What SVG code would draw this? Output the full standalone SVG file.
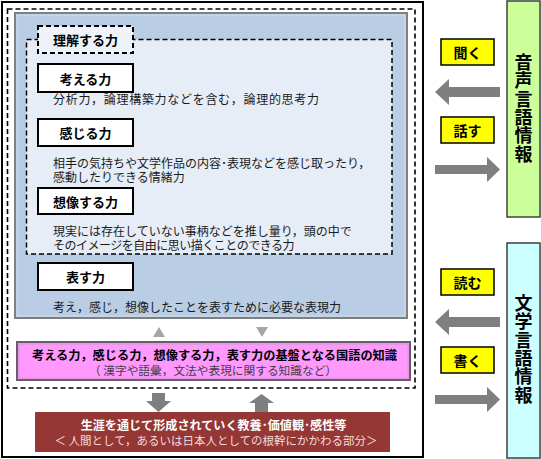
<svg xmlns="http://www.w3.org/2000/svg" width="541" height="459" viewBox="0 0 541 459">
<style>
  text { font-family: "Noto Sans CJK JP", "Noto Sans", sans-serif; dominant-baseline: central; }
  .lbl { font-size: 13px; font-weight: bold; fill: #000; text-anchor: middle; }
  .desc { font-size: 12px; fill: #1a1a1a; }
  .lblbox { fill: #ffffff; stroke: #000; stroke-width: 2; }
  .yel { fill: #ffff00; stroke: #000; stroke-width: 1.5; }
  .ytxt { font-size: 14px; font-weight: bold; text-anchor: middle; fill: #000; }
  .vtxt { font-size: 18px; font-weight: bold; fill: #000; writing-mode: vertical-rl; letter-spacing: 0.4px; }
  .arr { fill: #7f7f7f; }
  .tri { fill: #a6a6a6; }
</style>
<rect width="541" height="459" fill="#ffffff"/>

<g id="frame">
  <rect x="2" y="2" width="421" height="455" fill="none" stroke="#000" stroke-width="2"/>
  <rect x="7.5" y="9" width="407.5" height="379" fill="none" stroke="#000" stroke-width="1.6" stroke-dasharray="5,3"/>
</g>

<g id="abilities">
  <rect x="15" y="13" width="392" height="305" fill="#b9cde5" stroke="#7f7f7f" stroke-width="2"/>
  <rect x="17" y="15" width="388" height="301" fill="none" stroke="#d0dcea" stroke-width="1"/>
</g>

<g id="understanding">
  <rect x="26.5" y="39.5" width="365.5" height="214.5" fill="#e6edf7" stroke="#000" stroke-width="1.5" stroke-dasharray="5,3"/>
  <rect x="38" y="26" width="95" height="27" fill="#eef3fa" stroke="#000" stroke-width="2" stroke-dasharray="5,3"/>
  <text class="lbl" x="85.5" y="39.5">理解する力</text>
</g>

<g id="think">
  <rect class="lblbox" x="38" y="64" width="95" height="28"/>
  <text class="lbl" x="85.5" y="78">考える力</text>
  <text class="desc" x="53" y="98.5" textLength="266" lengthAdjust="spacing">分析力，論理構築力などを含む，論理的思考力</text>
</g>

<g id="feel">
  <rect class="lblbox" x="38" y="119" width="95" height="27"/>
  <text class="lbl" x="85.5" y="132.5">感じる力</text>
  <text class="desc"><tspan x="53" y="162">相手の気持ちや文学作品の内容･表現などを感じ取ったり，</tspan><tspan x="53" y="176">感動したりできる情緒力</tspan></text>
</g>

<g id="imagine">
  <rect class="lblbox" x="38" y="188" width="95" height="26"/>
  <text class="lbl" x="85.5" y="201">想像する力</text>
  <text class="desc"><tspan x="53" y="230">現実には存在していない事柄などを推し量り，頭の中で</tspan><tspan x="53" y="244" letter-spacing="-0.5">そのイメージを自由に思い描くことのできる力</tspan></text>
</g>

<g id="express">
  <rect class="lblbox" x="38" y="263" width="95" height="27"/>
  <text class="lbl" x="85.5" y="276.5">表す力</text>
  <text class="desc" x="53" y="306">考え，感じ，想像したことを表すために必要な表現力</text>
</g>

<g id="knowledge">
  <rect x="17" y="342" width="393" height="38" fill="#ff99ff" stroke="#6e5a6e" stroke-width="2"/>
  <rect x="19" y="344" width="389" height="34" fill="none" stroke="#c89ac8" stroke-width="1"/>
  <text text-anchor="middle"><tspan x="214.5" y="355" font-size="12.2" font-weight="bold" fill="#000">考える力，感じる力，想像する力，表す力の基盤となる国語の知識</tspan><tspan x="213" y="369" font-size="11.7" fill="#3f3f3f">（ 漢字や語彙，文法や表現に関する知識など）</tspan></text>
</g>

<g id="culture">
  <rect x="35" y="412" width="355" height="40" fill="#953735"/>
  <text text-anchor="middle"><tspan x="213.5" y="423.5" font-size="12.1" font-weight="bold" fill="#ffffff">生涯を通じて形成されていく教養･価値観･感性等</tspan><tspan x="216" y="439.5" font-size="11.5" fill="#f2dcdb">＜ 人間として，あるいは日本人としての根幹にかかわる部分＞</tspan></text>
</g>

<g id="speech-info">
  <rect x="507" y="1" width="33" height="216" fill="#ccff99" stroke="#404040" stroke-width="1.5"/>
  <text class="vtxt" x="523.5" y="53">音声言語情報</text>
</g>

<g id="text-info">
  <rect x="507" y="243" width="33" height="215" fill="#ccffff" stroke="#404040" stroke-width="1.5"/>
  <text class="vtxt" x="523.5" y="294">文学言語情報</text>
</g>

<g id="listen">
  <rect class="yel" x="441" y="39" width="53" height="26"/>
  <text class="ytxt" x="467.5" y="52">聞く</text>
</g>
<g id="speak">
  <rect class="yel" x="441" y="117" width="53" height="26"/>
  <text class="ytxt" x="467.5" y="130">話す</text>
</g>
<g id="read">
  <rect class="yel" x="441" y="269" width="53" height="26"/>
  <text class="ytxt" x="467.5" y="282">読む</text>
</g>
<g id="write">
  <rect class="yel" x="441" y="347" width="53" height="26"/>
  <text class="ytxt" x="467.5" y="360">書く</text>
</g>

<g id="connectors">
  <polygon class="arr" points="435,92 449,79 449,87 500,87 500,97 449,97 449,105"/>
  <polygon class="arr" points="500,169.5 487,157 487,165 435,165 435,174 487,174 487,182"/>
  <polygon class="arr" points="435,322 449,309 449,317 500,317 500,327 449,327 449,335"/>
  <polygon class="arr" points="500,399.5 487,387 487,395 435,395 435,404 487,404 487,412"/>
  <polygon class="tri" points="153,337 165,337 159,327"/>
  <polygon class="tri" points="256,327 268,327 262,337"/>
  <polygon class="arr" points="152,393 165,393 165,401 171,401 158.5,412 146,401 152,401"/>
  <polygon class="arr" points="261.5,394 274,403 268,403 268,412 255,412 255,403 249,403"/>
</g>
</svg>
